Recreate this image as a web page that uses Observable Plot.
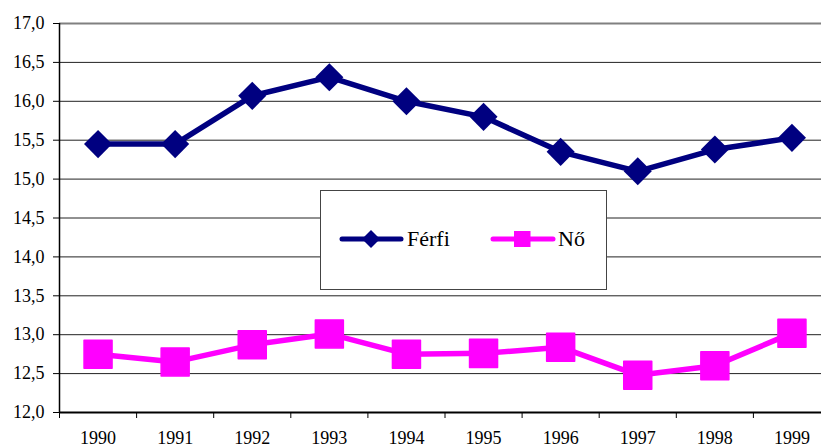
<!DOCTYPE html>
<html>
<head>
<meta charset="utf-8">
<script src="https://cdn.jsdelivr.net/npm/d3@7"></script>
<script src="https://cdn.jsdelivr.net/npm/@observablehq/plot@0.6"></script>
<style>
  html, body { margin: 0; padding: 0; background: #fff; }
  #wrap { position: relative; width: 821px; height: 447px; overflow: hidden; font-family: "Liberation Serif", "Times New Roman", serif; }
  #legend { position: absolute; left: 320px; top: 190px; font-family: "Liberation Serif", "Times New Roman", serif; }
</style>
</head>
<body>
<div id="wrap"></div>
<script>
const years = [1990, 1991, 1992, 1993, 1994, 1995, 1996, 1997, 1998, 1999];
const ferfi = [15.45, 15.45, 16.07, 16.31, 16.0, 15.8, 15.35, 15.1, 15.38, 15.53];
const no = [12.75, 12.65, 12.87, 13.01, 12.75, 12.76, 12.84, 12.48, 12.6, 13.02];
const yTicks = [12, 12.5, 13, 13.5, 14, 14.5, 15, 15.5, 16, 16.5, 17];
const yTickLabels = ["12,0", "12,5", "13,0", "13,5", "14,0", "14,5", "15,0", "15,5", "16,0", "16,5", "17,0"];
const seriesNames = ["Férfi", "Nő"];
const colors = ["#000080", "#FF00FF"];

const rows = years.map((y, i) => ({year: y, ferfi: ferfi[i], no: no[i]}));
const bounds = [years[0] - 0.5, ...years.map(y => y + 0.5)];

const chart = Plot.plot({
  width: 821,
  height: 447,
  marginLeft: 59,
  marginRight: 0,
  marginTop: 23,
  marginBottom: 35,
  style: {fontFamily: "Liberation Serif", fontSize: "18px", color: "#000", background: "#fff", overflow: "hidden"},
  x: {type: "linear", domain: [years[0] - 0.5, years[years.length - 1] + 0.5], range: [59, 830]},
  y: {domain: [12, 17]},
  marks: [
    Plot.gridY(yTicks.filter(v => v > 12 && v < 17), {stroke: "#222", strokeOpacity: 1, strokeWidth: 1}),
    Plot.ruleY([17], {stroke: "#808080", strokeWidth: 2}),
    Plot.axisY(yTicks, {tickSize: 6, tickPadding: 9, tickFormat: (d) => yTickLabels[yTicks.indexOf(d)], stroke: "#000", fill: "#000", label: null}),
    Plot.axisX(bounds, {tickSize: 6, tickFormat: () => "", stroke: "#000", label: null}),
    Plot.axisX(years, {tickSize: 0, tickPadding: 19, tickFormat: d => String(d), fill: "#000", label: null}),
    Plot.ruleX([years[0] - 0.5], {stroke: "#000", strokeWidth: 1.5}),
    Plot.ruleY([12], {stroke: "#000", strokeWidth: 2}),
    Plot.line(rows, {x: "year", y: "ferfi", stroke: colors[0], strokeWidth: 5.5, strokeLinejoin: "round"}),
    Plot.dot(rows, {x: "year", y: "ferfi", symbol: "square", r: 11.2, rotate: 45, fill: colors[0], stroke: null}),
    Plot.line(rows, {x: "year", y: "no", stroke: colors[1], strokeWidth: 5.5, strokeLinejoin: "round"}),
    Plot.dot(rows, {x: "year", y: "no", symbol: "square", r: 15.8, fill: colors[1], stroke: colors[1], strokeWidth: 1.5, strokeLinejoin: "round"})
  ]
});

const wrap = document.getElementById("wrap");
wrap.appendChild(chart);

// Legend overlay
const ns = "http://www.w3.org/2000/svg";
const leg = document.createElementNS(ns, "svg");
leg.setAttribute("id", "legend");
leg.setAttribute("width", 288);
leg.setAttribute("height", 101);
leg.innerHTML = `
  <rect x="0.5" y="0.5" width="286" height="99" fill="#fff" stroke="#444" stroke-width="1"/>
  <line x1="22" y1="49" x2="81" y2="49" stroke="${colors[0]}" stroke-width="5" stroke-linecap="round"/>
  <path d="M51,40 L60,49 L51,58 L42,49 Z" fill="${colors[0]}"/>
  <text x="87" y="56" font-family="Liberation Serif" font-size="22" fill="#000">${seriesNames[0]}</text>
  <line x1="173" y1="49" x2="233" y2="49" stroke="${colors[1]}" stroke-width="5" stroke-linecap="round"/>
  <rect x="194" y="41" width="16.5" height="16" fill="${colors[1]}"/>
  <text x="238" y="56" font-family="Liberation Serif" font-size="22" fill="#000">${seriesNames[1]}</text>
`;
wrap.appendChild(leg);
</script>
</body>
</html>
